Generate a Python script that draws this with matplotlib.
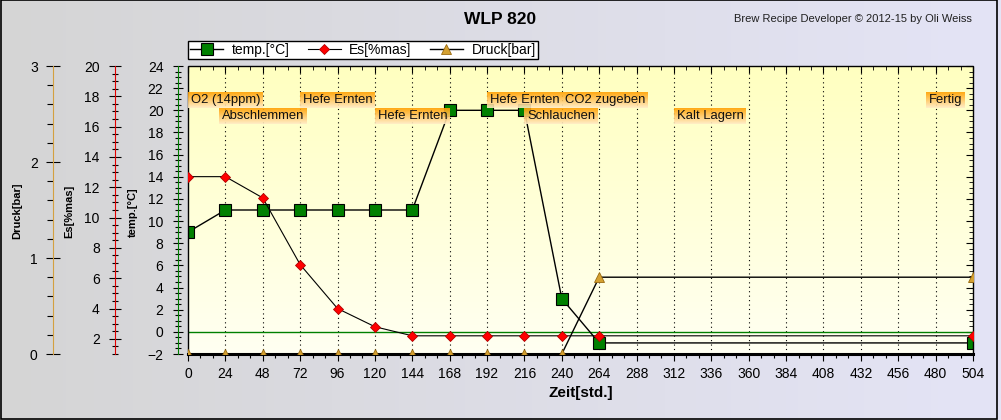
import matplotlib
matplotlib.use("Agg")
import matplotlib.pyplot as plt
import numpy as np
from matplotlib.ticker import MultipleLocator
from matplotlib.patches import Rectangle

plt.rcParams['font.family'] = ['Liberation Sans', 'DejaVu Sans']

# Messwerte ueber der Zeit [std.]
zeit = [0, 24, 48, 72, 96, 120, 144, 168, 192, 216, 240, 264, 504]
temp = [9, 11, 11, 11, 11, 11, 11, 20, 20, 20, 3, -1, -1]
es = [12.7, 12.7, 11.3, 6.9, 4.0, 2.8, 2.2, 2.2, 2.2, 2.2, 2.2, 2.2, 2.2]
druck = [0, 0, 0, 0, 0, 0, 0, 0, 0, 0, 0, 0.8, 0.8]

# Ereignisse
ereignisse = ["O2 (14ppm)", "Abschlemmen", "Hefe Ernten", "Hefe Ernten", "Hefe Ernten",
              "Schlauchen", "CO2 zugeben", "Kalt Lagern", "Fertig"]
ereignis_zeit = [0, 20, 72, 120, 192, 216, 240, 312, 474]
ereignis_reihe = [0, 1, 0, 1, 0, 1, 0, 1, 0]

W, H = 1001, 420
fig = plt.figure(figsize=(W / 100, H / 100), dpi=100)

# Hintergrund mit Farbverlauf
bg = fig.add_axes([0, 0, 1, 1])
bg.set_zorder(-5)
grad = np.linspace(0, 1, 256)
c0 = np.array([213, 213, 213]) / 255.0
c1 = np.array([228, 228, 246]) / 255.0
img = c0[None, None, :] * (1 - grad[None, :, None]) + c1[None, None, :] * grad[None, :, None]
bg.imshow(img, aspect='auto', extent=[0, 1, 0, 1])
bg.axis('off')
fig.patches.append(Rectangle((0.0005, 0.002), 0.9955, 0.997, transform=fig.transFigure,
                             fill=False, edgecolor='black', lw=1.2))

ax = fig.add_axes([188 / W, 1 - 354 / H, 785 / W, 288 / H])
ax.set_xlim(0, 504)
ax.set_ylim(-2, 24)

# Plotflaeche mit Farbverlauf
vg = np.linspace(0, 1, 256)
p0 = np.array([255, 255, 242]) / 255.0
p1 = np.array([255, 255, 192]) / 255.0
pimg = p0[None, None, :] * (1 - vg[:, None, None]) + p1[None, None, :] * vg[:, None, None]
ax.imshow(pimg, aspect='auto', extent=[0, 504, 24, -2], origin='upper', zorder=0)
ax.set_ylim(-2, 24)
ax.patch.set_visible(False)

for xv in range(24, 504, 24):
    ax.axvline(xv, color='black', lw=0.8, ls=(0, (1, 3)), zorder=1)
ax.axhline(0, color='#008000', lw=1, zorder=2)

l_temp, = ax.plot(zeit, temp, color='black', lw=1, marker='s', ms=8,
                  mfc='#008000', mec='black', mew=0.8, label='temp.[°C]', zorder=3)

# Achsen
for s in ['top', 'right', 'bottom']:
    ax.spines[s].set_visible(False)
ax.spines['left'].set_position(('outward', 7.2))
ax.spines['left'].set_color('#008000')
ax.add_patch(Rectangle((0, 0), 1, 1, transform=ax.transAxes, fill=False,
                       edgecolor='black', lw=1, clip_on=False, zorder=6))
ax.plot([0, 1], [0, 0], transform=ax.transAxes, color='black', lw=2.2, clip_on=False, zorder=6)

ax.yaxis.set_major_locator(MultipleLocator(2))
ax.yaxis.set_minor_locator(MultipleLocator(0.5))
ax.tick_params(axis='y', which='major', direction='inout', length=7, width=0.8, pad=7, labelsize=10)
ax.tick_params(axis='y', which='minor', direction='inout', length=4, width=0.8)
ax.xaxis.set_major_locator(MultipleLocator(24))
ax.xaxis.set_minor_locator(MultipleLocator(8))
ax.tick_params(axis='x', which='major', direction='out', length=5, width=0.8, labelsize=10, pad=4)
ax.tick_params(axis='x', which='minor', direction='out', length=3, width=0.8)
ax.set_xlabel('Zeit[std.]', fontsize=11, fontweight='bold', labelpad=4)

sx = ax.secondary_xaxis('top')
sx.xaxis.set_major_locator(MultipleLocator(24))
sx.xaxis.set_minor_locator(MultipleLocator(8))
sx.tick_params(which='major', direction='in', length=5, labeltop=False)
sx.tick_params(which='minor', direction='in', length=3)
sx.spines['top'].set_visible(False)
sy = ax.secondary_yaxis('right')
sy.yaxis.set_major_locator(MultipleLocator(2))
sy.yaxis.set_minor_locator(MultipleLocator(0.5))
sy.tick_params(which='major', direction='in', length=5, labelright=False)
sy.tick_params(which='minor', direction='in', length=3)
sy.spines['right'].set_visible(False)

# Es-Achse
ax_es = ax.twinx()
ax_es.set_ylim(1, 20)
for s in ['top', 'right', 'bottom']:
    ax_es.spines[s].set_visible(False)
ax_es.spines['left'].set_visible(True)
ax_es.spines['left'].set_position(('outward', 52.6))
ax_es.spines['left'].set_color('#e00000')
ax_es.yaxis.set_ticks_position('left')
ax_es.yaxis.set_minor_locator(MultipleLocator(0.5))
ax_es.set_yticks(np.arange(2, 21, 2))
ax_es.tick_params(axis='y', which='major', direction='inout', length=8, width=0.8, pad=7, labelsize=10)
ax_es.tick_params(axis='y', which='minor', direction='inout', length=4, width=0.8)
l_es, = ax_es.plot(zeit, es, color='black', lw=0.8, marker='D', ms=5.5,
                   mfc='#ff0000', mec='#b00000', mew=0.6, label='Es[%mas]', zorder=3)

# Druck-Achse
ax_dr = ax.twinx()
ax_dr.set_ylim(0, 3)
for s in ['top', 'right', 'bottom']:
    ax_dr.spines[s].set_visible(False)
ax_dr.spines['left'].set_visible(True)
ax_dr.spines['left'].set_position(('outward', 97.2))
ax_dr.spines['left'].set_color('#d4a040')
ax_dr.yaxis.set_ticks_position('left')
ax_dr.yaxis.set_major_locator(MultipleLocator(1))
ax_dr.yaxis.set_minor_locator(MultipleLocator(0.2))
ax_dr.tick_params(axis='y', which='major', direction='inout', length=10, width=0.8, pad=6, labelsize=10)
ax_dr.tick_params(axis='y', which='minor', direction='out', length=4, width=0.8)
l_dr, = ax_dr.plot(zeit, druck, color='black', lw=1, marker='^', ms=6.5,
                   mfc='#d4a030', mec='#9a6a10', mew=0.6, label='Druck[bar]', zorder=3)

# Achsentitel
fig.text(17 / W, 1 - 211 / H, 'Druck[bar]', rotation=90, ha='center', va='center', fontsize=8, fontweight='bold')
fig.text(69 / W, 1 - 211 / H, 'Es[%mas]', rotation=90, ha='center', va='center', fontsize=8, fontweight='bold')
fig.text(133 / W, 1 - 212 / H, 'temp.[°C]', rotation=90, ha='center', va='center', fontsize=8, fontweight='bold')

# Titel
fig.text(500 / W, 1 - 20 / H, 'WLP 820', ha='center', va='center', fontsize=12.5, fontweight='bold')
fig.text(972 / W, 1 - 19 / H, 'Brew Recipe Developer \u00a9 2012-15 by Oli Weiss', ha='right', va='center',
         fontsize=8, color='#202020')

# Legende
leg = fig.legend([l_temp, l_es, l_dr], ['temp.[°C]', 'Es[%mas]', 'Druck[bar]'], ncol=3,
                 loc='upper left', bbox_to_anchor=(188 / W, 1 - 41 / H), fontsize=10,
                 frameon=True, fancybox=False, edgecolor='black', framealpha=1,
                 handlelength=2.4, columnspacing=1.3, borderpad=0.15, handletextpad=0.6,
                 borderaxespad=0)
leg.get_frame().set_linewidth(1)

# Ereignisse mit Farbverlauf-Hintergrund
renderer = fig.canvas.get_renderer()
px_h = ax.transData.transform((1, 0))[0] - ax.transData.transform((0, 0))[0]
px_t = ax.transData.transform((0, 1))[1] - ax.transData.transform((0, 0))[1]
row_center = [24 - 34 / px_t, 24 - 50 / px_t]
box_h = 16 / px_t
o0 = np.array([255, 160, 0]) / 255.0
o1 = np.array([255, 236, 200]) / 255.0
og = np.linspace(0, 1, 64)
oimg = o0[None, None, :] * (1 - og[:, None, None]) + o1[None, None, :] * og[:, None, None]
for name, t, r in zip(ereignisse, ereignis_zeit, ereignis_reihe):
    yc = row_center[r]
    txt = ax.text(t + 3 / px_h, yc, name, fontsize=9.4, ha='left', va='center', zorder=8, color='#101010')
    bb = txt.get_window_extent(renderer)
    x1 = t + (bb.width + 5) / px_h
    ax.imshow(oimg, aspect='auto', extent=[t, x1, yc - box_h / 2, yc + box_h / 2],
              origin='upper', zorder=7, alpha=0.9)
ax.set_xlim(0, 504)
ax.set_ylim(-2, 24)

fig.savefig('out.png', dpi=100)
